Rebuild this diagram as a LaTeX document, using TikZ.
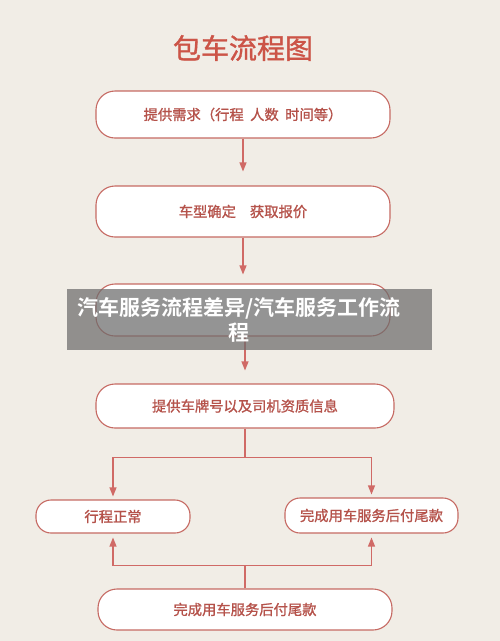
\documentclass[tikz,border=0pt]{standalone}
\usepackage{fontspec}
\newfontfamily\cjk{Noto Sans CJK SC}
\newfontfamily\cjkm[FakeBold=1.2]{Noto Sans CJK SC}
\newfontfamily\cjkb{Noto Sans CJK SC Bold}
\usetikzlibrary{arrows.meta}
\definecolor{bg}{HTML}{F1EDE6}
\definecolor{edge}{HTML}{C66A63}
\definecolor{txt}{HTML}{B5524A}
\definecolor{ttl}{HTML}{CC5447}
\definecolor{arr}{HTML}{D06A66}
\tikzset{
  box/.style={draw=edge, line width=1.1pt, fill=white, rounded corners=19pt,
    inner sep=0pt, text=txt, font=\cjkm\fontsize{14.3}{16}\selectfont},
  smallbox/.style={box, rounded corners=15pt},
  flow/.style={draw=arr, line width=1.2pt, -{Triangle[length=9pt,width=7pt]}},
  plain/.style={draw=arr, line width=1.2pt}
}
\begin{document}
\begin{tikzpicture}[x=1pt,y=-1pt]
\fill[bg] (0,0) rectangle (500,641);
\useasboundingbox (0,0) rectangle (500,641);
\node[text=ttl, font=\cjkm\fontsize{28}{30}\selectfont] (title) at (243,48) {包车流程图};
\node[box, minimum width=294pt, minimum height=47pt] (b1) at (243,114.5) {提供需求（行程\ \ 人数\ \ 时间等）};
\node[box, minimum width=294pt, minimum height=51pt] (b2) at (243,211.5) {车型确定\hspace{14pt}获取报价};
\node[box, minimum width=294pt, minimum height=52pt] (b3) at (243,310) {};
\node[box, minimum width=298pt, minimum height=44pt] (b4) at (245,406) {提供车牌号以及司机资质信息};
\node[smallbox, minimum width=154pt, minimum height=33pt] (b5) at (113,516.5) {行程正常};
\node[smallbox, minimum width=173pt, minimum height=35pt] (b6) at (371.5,515.5) {完成用车服务后付尾款};
\node[box, minimum width=294pt, minimum height=41pt] (b7) at (245,609.5) {完成用车服务后付尾款};
\draw[flow, shorten >=14pt] (b1.south) -- (b2.north);
\draw[flow, shorten >=9pt] (b2.south) -- (b3.north);
\draw[flow, shorten >=13pt] (b3.south -| b4.south) -- (b4.north);
\draw[plain] (b4.south) -- ++(0,29) coordinate (j1);
\draw[flow, shorten >=3pt] (j1) -| (b5.north);
\draw[flow, shorten >=3pt] (j1) -| (b6.north);
\draw[plain] (b7.north) -- ++(0,-23) coordinate (j2);
\draw[flow, shorten >=4pt] (j2) -| (b5.south);
\draw[flow, shorten >=4pt] (j2) -| (b6.south);
\fill[gray!85!black, opacity=0.72] (67,289) rectangle (432,350);
\node[text=white, font=\cjkb\fontsize{21}{25}\selectfont, align=center] (ov) at (239,320) {汽车服务流程差异/汽车服务工作流\\程};
\end{tikzpicture}
\end{document}
